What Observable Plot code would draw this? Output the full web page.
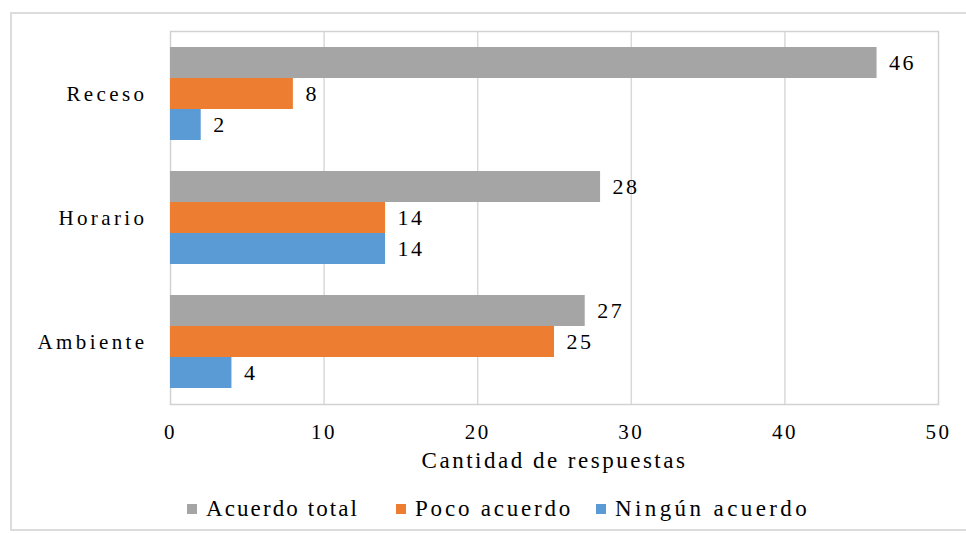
<!DOCTYPE html>
<html>
<head>
<meta charset="utf-8">
<script src="https://cdn.jsdelivr.net/npm/d3@7"></script>
<script src="https://cdn.jsdelivr.net/npm/@observablehq/plot@0.6"></script>
<style>
  html, body { margin: 0; padding: 0; background: #fff; width: 966px; height: 534px; overflow: hidden; }
  #outer { position: absolute; left: 10px; top: 12px; width: 980px; height: 519px; border: 2px solid #dcdcdc; box-sizing: border-box; }
  #chart { position: absolute; left: 0; top: 0; }
  #chart svg text { letter-spacing: 2.5px; }
  #chart svg [aria-label="y-axis tick label"] text { letter-spacing: 3.4px; }
  #legend { position: absolute; left: 0; top: 496px; width: 966px; height: 30px;
            font-family: "Liberation Serif", "DejaVu Serif", serif; font-size: 23px; color: #000; }
  .item { position: absolute; top: 0; display: flex; align-items: center; white-space: nowrap; }
  .sw { width: 10px; height: 10px; margin-right: 9px; }
</style>
</head>
<body>
<div id="outer"></div>
<div id="chart"></div>
<div id="legend"></div>
<script>
const categories = ["Receso", "Horario", "Ambiente"];
const series = ["Acuerdo total", "Poco acuerdo", "Ningún acuerdo"];
const acuerdoTotal = [46, 28, 27];
const pocoAcuerdo = [8, 14, 25];
const ningunAcuerdo = [2, 14, 4];
const xTicks = [0, 10, 20, 30, 40, 50];
const colors = ["#a5a5a5", "#ed7d31", "#5b9bd5"];
const xLabel = "Cantidad de respuestas";

const values = [acuerdoTotal, pocoAcuerdo, ningunAcuerdo];
const data = categories.flatMap((c, i) =>
  series.map((s, j) => ({ category: c, series: s, key: c + "|" + s, value: values[j][i] })));
const yDomain = categories.flatMap((c, i) => [
  ...series.map(s => c + "|" + s),
  ...(i < categories.length - 1 ? [c + "|gap"] : [])
]);

const chart = Plot.plot({
  width: 966,
  height: 480,
  marginLeft: 170,
  marginRight: 28,
  marginTop: 31,
  marginBottom: 76,
  style: { fontFamily: "Liberation Serif, DejaVu Serif, serif", fontSize: "21px", background: "transparent", color: "#000" },
  x: { domain: [0, 50], ticks: xTicks, tickSize: 0, tickPadding: 20, label: null, tickFormat: d => String(d) },
  y: {
    domain: yDomain, paddingInner: 0, paddingOuter: 0.5,
    tickFormat: d => d.endsWith("|" + series[1]) ? d.split("|")[0] : "",
    tickSize: 0, tickPadding: 23, label: null
  },
  color: { domain: series, range: colors },
  marks: [
    Plot.ruleX(xTicks.slice(1, -1), { stroke: "#d9d9d9", strokeWidth: 1.5 }),
    Plot.frame({ stroke: "#d2d2d2", strokeWidth: 1.5 }),
    Plot.barX(data, { x: "value", y: "key", fill: "series" }),
    Plot.text(data, { x: "value", y: "key", text: d => String(d.value), dx: 12, textAnchor: "start", fontSize: 22, fill: "#000" }),
    Plot.text([xLabel], { frameAnchor: "bottom", dy: 63, fontSize: 23, fill: "#000", text: d => d })
  ]
});
document.getElementById("chart").appendChild(chart);

const legendX = [187, 396, 596];
const legendSpacing = ["2.1px", "2.8px", "3.4px"];
const legend = document.getElementById("legend");
series.forEach((s, i) => {
  const item = document.createElement("div");
  item.className = "item";
  item.style.left = legendX[i] + "px";
  item.style.letterSpacing = legendSpacing[i];
  const sw = document.createElement("span");
  sw.className = "sw";
  sw.style.background = colors[i];
  const t = document.createElement("span");
  t.textContent = s;
  item.appendChild(sw);
  item.appendChild(t);
  legend.appendChild(item);
});
</script>
</body>
</html>
